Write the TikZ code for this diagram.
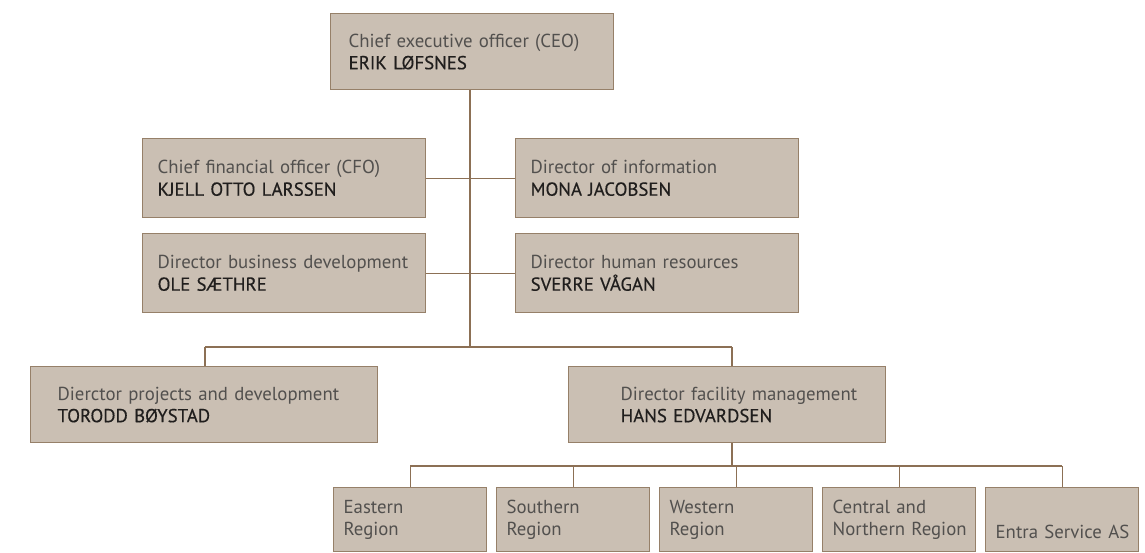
\documentclass[tikz,border=0pt]{standalone}
\usepackage{fontspec}
\setmainfont{PT Sans}
\newfontfamily\namefont[FakeBold=0.4]{PT Sans}
\usepackage{tikz}
\usetikzlibrary{calc, positioning}
\definecolor{boxfill}{RGB}{202,191,179}
\definecolor{boxline}{RGB}{150,128,105}
\definecolor{linkline}{RGB}{140,112,85}
\definecolor{roletext}{RGB}{82,80,78}
\definecolor{nametext}{RGB}{32,30,29}
\newcommand{\who}[1]{{\namefont\color{nametext}#1}}

\begin{document}
\begin{tikzpicture}[x=1pt, y=-1pt,
  every node/.style={font=\fontsize{18.8}{22}\selectfont, text=roletext},
  unit/.style n args={3}{draw=boxline, fill=boxfill, line width=1.3pt,
    anchor=north west, inner xsep=0pt, inner ysep=0pt, align=left,
    text width=#1, minimum width=#1, minimum height=#2,
    execute at begin node={\leftskip=#3}},
  link/.style={draw=linkline, line width=1.2pt}
]
\useasboundingbox (0,0) rectangle (1145,552);
% top and staff
\node[unit={283pt}{76pt}{18pt}] (ceo) at (330,13)
  {Chief executive officer (CEO)\\\who{ERIK LØFSNES}};
\node[unit={283pt}{79pt}{15pt}] (cfo) at (142,138)
  {Chief financial officer (CFO)\\\who{KJELL OTTO LARSSEN}};
\node[unit={283pt}{79pt}{15pt}] (info) at (515,138)
  {Director of information\\\who{MONA JACOBSEN}};
\node[unit={283pt}{79pt}{15pt}] (busdev) at (142,233)
  {Director business development\\\who{OLE SÆTHRE}};
\node[unit={283pt}{79pt}{15pt}] (hr) at (515,233)
  {Director human resources\\\who{SVERRE VÅGAN}};
% line directors
\node[unit={347pt}{76pt}{27pt}] (projects) at (30,366)
  {Dierctor projects and development\\\who{TORODD BØYSTAD}};
\node[unit={317pt}{76pt}{52pt}] (facility) at (568,366)
  {Director facility management\\\who{HANS EDVARDSEN}};
% regions
\foreach \i/\txt in {1/{Eastern\\Region}, 2/{Southern\\Region},
                     3/{Western\\Region}, 4/{Central and\\Northern Region},
                     5/{\strut\\Entra Service AS}}
  \node[unit={153pt}{64pt}{10pt}] (r\i) at ({333+163*(\i-1)},487) {\txt};

\coordinate (trunk) at (470,347);
\coordinate (lbranch) at (205,347);
\coordinate (rbranch) at (732,347);
\coordinate (rbus) at (732,466);
\draw[link] (ceo.south -| trunk) -- (trunk);
\draw[link] (cfo.east) -- (info.west);
\draw[link] (busdev.east) -- (hr.west);
\draw[link] (lbranch) -- (rbranch);
\draw[link] (lbranch) -- (lbranch |- projects.north);
\draw[link] (rbranch) -- (rbranch |- facility.north);
\draw[link] (facility.south -| rbus) -- (rbus);
\draw[link] (r1.north |- rbus) -- (r5.north |- rbus);
\foreach \i in {1,...,5}
  \draw[link] (r\i.north |- rbus) -- (r\i.north);
\end{tikzpicture}
\end{document}
